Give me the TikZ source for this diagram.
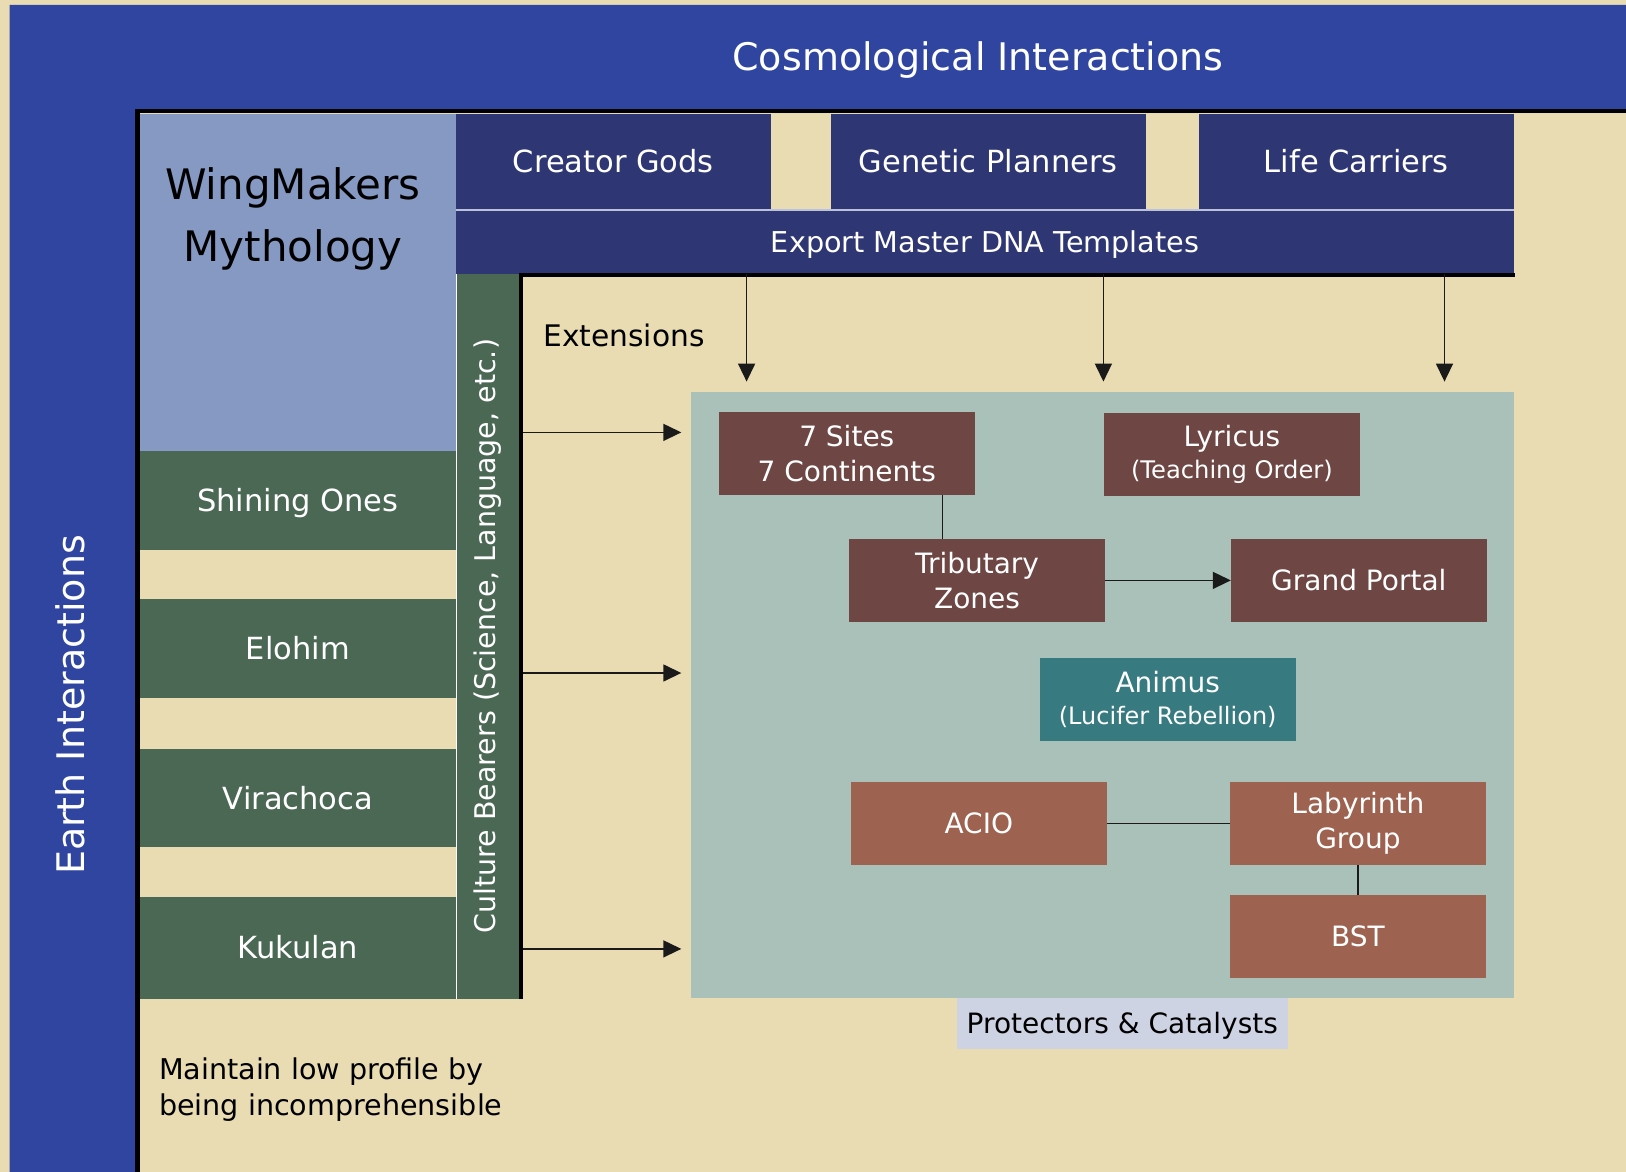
\documentclass[tikz,border=0pt]{standalone}
\usepackage{fontspec}
\setmainfont{DejaVu Sans}
\usetikzlibrary{arrows.meta}
\definecolor{bgbeige}{HTML}{E9DCB3}
\definecolor{mainblue}{HTML}{2F45A0}
\definecolor{wmblue}{HTML}{8599C3}
\definecolor{navy}{HTML}{2E3774}
\definecolor{darkgreen}{HTML}{4A6854}
\definecolor{panelgreen}{HTML}{A9C1B9}
\definecolor{brown}{HTML}{6E4744}
\definecolor{tealbox}{HTML}{377B81}
\definecolor{terra}{HTML}{9E6350}
\definecolor{labelblue}{HTML}{CDD3E3}
\definecolor{sepline}{HTML}{BCC2DC}
\definecolor{linegray}{HTML}{1A1A1A}
\tikzset{
  basebox/.style={rectangle, inner sep=0pt, outer sep=0pt, align=center, text=white, font=\fontsize{28}{35}\selectfont},
  oneline/.style={text height=#1, text depth=0pt},
  smallbox/.style={basebox, minimum width=256pt, minimum height=82.5pt},
  greenbox/.style={basebox, oneline=22.3pt, fill=darkgreen, minimum width=316.8pt, font=\fontsize{30.5}{38}\selectfont},
  navybox/.style={basebox, oneline=22.3pt, fill=navy, minimum height=96pt, font=\fontsize{30.5}{38}\selectfont},
  conn/.style={draw=linegray, line width=1.5pt},
  arr/.style={conn, -{Triangle[length=18pt,width=17pt]}},
  plaintext/.style={inner sep=0pt, outer sep=0pt, text=black, font=\fontsize{28.6}{36}\selectfont},
}
\begin{document}
\begin{tikzpicture}[x=1pt,y=-1pt]
\fill[bgbeige] (0,0) rectangle (1626,1172);
\useasboundingbox (0,0) rectangle (1626,1172);
% blue L-frame
\fill[mainblue] (9.6,5) -- (1626,5) -- (1626,111) -- (137.5,111) -- (137.5,1172) -- (9.6,1172) -- cycle;
\draw[black, line width=4.5pt] (137.5,1180) -- (137.5,111) -- (1632,111);
\node[basebox, oneline=27.7pt, font=\fontsize{38}{46}\selectfont] (title) at (978,57) {Cosmological Interactions};
\node[basebox, oneline=27.7pt, rotate=90, font=\fontsize{38}{46}\selectfont] (earth) at (70.5,705) {Earth Interactions};

% WingMakers box and left column
\node[basebox, fill=wmblue, minimum width=316.8pt, minimum height=337.6pt] (wm) at (297.9,282.3) {};
\node[basebox, text=black, font=\fontsize{42}{62}\selectfont] (wmtext) at (293,218.7) {WingMakers\\Mythology};
\node[greenbox, minimum height=98.5pt] (shining) at (297.9,500.35) {Shining Ones};
\node[greenbox, minimum height=98.5pt] (elohim) at (297.9,648.65) {Elohim};
\node[greenbox, minimum height=98.5pt] (vira) at (297.9,797.95) {Virachoca};
\node[greenbox, minimum height=101.6pt] (kuku) at (297.9,947.8) {Kukulan};

% top boxes
\node[navybox, minimum width=314.2pt] (creator) at (613.4,161.5) {Creator Gods};
\node[navybox, minimum width=315.3pt] (genetic) at (988.25,161.5) {Genetic Planners};
\node[navybox, minimum width=315.2pt] (life) at (1356.4,161.5) {Life Carriers};
\node[basebox, oneline=21pt, fill=navy, minimum width=1057.7pt, minimum height=63.8pt, font=\fontsize{28.7}{35}\selectfont] (export) at (985.15,241.9) {Export Master DNA Templates};
\draw[sepline, line width=1.3pt] (export.north west) -- (export.north east);

% culture bearers bar
\node[basebox, fill=darkgreen, rotate=90, minimum width=724.8pt, minimum height=62.4pt, font=\fontsize{28.5}{35}\selectfont] (culture) at (487.5,636.2) {Culture Bearers (Science, Language, etc.)};
\draw[white, line width=0.8pt] (456.3,273.8) -- (456.3,999);
\draw[black, line width=4pt] (521,999) -- (521,274.7) -- (1515,274.7);

\node[plaintext, oneline=21.7pt, anchor=west, font=\fontsize{29.7}{36}\selectfont] (ext) at (543.4,336) {Extensions};

% panel
\node[basebox, fill=panelgreen, minimum width=823.4pt, minimum height=605.6pt] (panel) at (1102.3,694.8) {};
\node[basebox, oneline=20.4pt, fill=labelblue, text=black, minimum width=331pt, minimum height=50.7pt] (prot) at (1122.3,1023.7) {Protectors \& Catalysts};

% arrows into the panel
\coordinate (d1) at (746.6,381.6);
\coordinate (d2) at (1103.4,381.6);
\coordinate (d3) at (1444.5,381.6);
\draw[arr] (export.south -| d1) -- (d1);
\draw[arr] (export.south -| d2) -- (d2);
\draw[arr] (export.south -| d3) -- (d3);
\coordinate (s1) at (523,432.4);
\coordinate (s2) at (523,673);
\coordinate (s3) at (523,948.9);
\coordinate (r1) at (681.3,432.4);
\coordinate (r2) at (681.3,673);
\coordinate (r3) at (681.3,948.9);
\draw[arr] (s1) -- (r1);
\draw[arr] (s2) -- (r2);
\draw[arr] (s3) -- (r3);

% boxes in panel
\node[smallbox, fill=brown] (sites) at (846.8,453.5) {7 Sites\\7 Continents};
\node[smallbox, fill=brown] (lyricus) at (1231.9,454.5) {Lyricus\\[-3pt]{\fontsize{24.2}{28}\selectfont (Teaching Order)}};
\node[smallbox, fill=brown] (trib) at (977,580.4) {Tributary\\Zones};
\node[smallbox, oneline=20.4pt, fill=brown] (portal) at (1358.8,580.4) {Grand Portal};
\node[smallbox, fill=tealbox] (animus) at (1167.7,699.3) {Animus\\[-3pt]{\fontsize{24}{28}\selectfont (Lucifer Rebellion)}};
\node[smallbox, oneline=20.4pt, fill=terra] (acio) at (978.8,823.5) {ACIO};
\node[smallbox, fill=terra] (lab) at (1357.9,823.5) {Labyrinth\\Group};
\node[smallbox, oneline=20.4pt, fill=terra] (bst) at (1357.9,936.3) {BST};

\coordinate (vx) at (942.5,0);
\draw[conn] (sites.south -| vx) -- (trib.north -| vx);
\draw[arr] (trib.east) -- (portal.west);
\draw[conn] (acio.east) -- (lab.west);
\draw[conn] (lab.south) -- (bst.north);

\node[plaintext, anchor=west, align=left] (maintain) at (159,1089.5) {Maintain low profile by\\being incomprehensible};
\end{tikzpicture}
\end{document}
